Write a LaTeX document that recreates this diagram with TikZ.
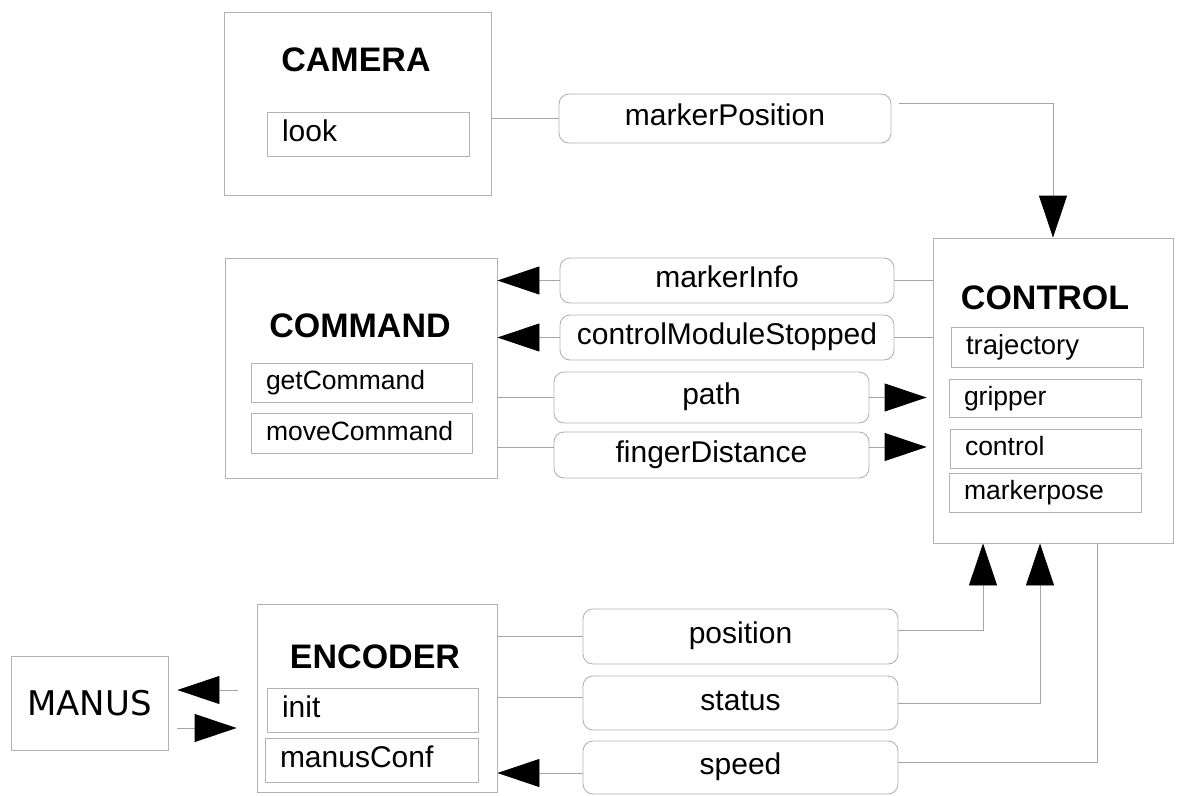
\documentclass[tikz,border=0pt]{standalone}
\usepackage{fontspec}
\setmainfont{Liberation Sans}
\newfontfamily\manusfont{DejaVu Sans}
\usetikzlibrary{arrows.meta,calc}

\tikzset{
  module/.style={draw=gray!60, line width=0.9pt, inner sep=0pt},
  title/.style={font=\fontsize{34pt}{40pt}\selectfont\bfseries},
  slot/.style={draw=gray!60, line width=0.9pt, inner xsep=15pt, inner ysep=0pt, align=left,
    text height=19pt, text depth=5pt, font=\fontsize{26.5pt}{32pt}\selectfont},
  bigslot/.style={slot, text height=21pt, text depth=6pt, font=\fontsize{30pt}{36pt}\selectfont},
  msg/.style={draw=gray!60, line width=0.9pt, rounded corners=10pt, inner sep=0pt,
    text height=21pt, text depth=7pt, font=\fontsize{30pt}{36pt}\selectfont},
  link/.style={gray!70, line width=0.9pt},
  flow/.style={link, -{Triangle[length=42pt,width=28pt,color=black]}},
}

\begin{document}
\begin{tikzpicture}[x=1pt, y=-1pt]
    \useasboundingbox (0,0) rectangle (1177,795);

    % Camera module
    \node[module, minimum width=267pt, minimum height=183pt] (camera) at (357.5,103.5) {};
    \node[title] (cameraT) at (356,60) {CAMERA};
    \node[bigslot, minimum height=44pt, text width=172pt] (look) at (368,134) {look};

    % Command module
    \node[module, minimum width=272pt, minimum height=220pt] (command) at (361,368) {};
    \node[title] (commandT) at (360,326) {COMMAND};
    \node[slot, minimum height=39pt, text width=191pt] (getcmd) at (361.5,382.5) {getCommand};
    \node[slot, minimum height=40pt, text width=191pt] (movecmd) at (361.5,433) {moveCommand};

    % Control module
    \node[module, minimum width=240pt, minimum height=305pt] (control) at (1053,390.5) {};
    \node[title] (controlT) at (1045,298) {CONTROL};
    \node[slot, minimum height=40pt, text width=162pt, font=\fontsize{27.5pt}{33pt}\selectfont] (traj) at (1047,347) {trajectory};
    \node[slot, minimum height=38pt, text width=162pt] (grip) at (1045,398) {gripper};
    \node[slot, minimum height=39pt, text width=161pt] (ctrl) at (1045.5,448.5) {control};
    \node[slot, minimum height=39pt, text width=162pt] (mpose) at (1045,492.5) {markerpose};

    % Encoder module and the hand
    \node[module, minimum width=240pt, minimum height=188pt] (encoder) at (377,698) {};
    \node[title] (encoderT) at (375,657) {ENCODER};
    \node[bigslot, minimum height=44pt, text width=181pt] (init) at (372.5,710) {init};
    \node[bigslot, minimum height=44pt, text width=183pt] (mconf) at (371.5,760) {manusConf};
    \node[module, minimum width=157pt, minimum height=94pt,
          font=\manusfont\fontsize{34pt}{40pt}\selectfont] (manus) at (89.5,703) {MANUS};

    % Messages
    \node[msg, minimum width=332pt, minimum height=49pt] (mpos) at (725,118.5) {markerPosition};
    \node[msg, minimum width=334pt, minimum height=45pt] (minfo) at (727,280.5) {markerInfo};
    \node[msg, minimum width=334pt, minimum height=45pt] (cms) at (727,337.5) {controlModuleStopped};
    \node[msg, minimum width=315pt, minimum height=51pt] (path) at (711.5,397.5) {path};
    \node[msg, minimum width=315pt, minimum height=46pt] (fdist) at (711.5,455) {fingerDistance};
    \node[msg, minimum width=315pt, minimum height=55pt] (position) at (740.5,636.5) {position};
    \node[msg, minimum width=315pt, minimum height=54pt] (status) at (740.5,703) {status};
    \node[msg, minimum width=315pt, minimum height=53pt] (speed) at (740.5,767.5) {speed};

    % Camera -> Control
    \draw[link] (mpos.west -| camera.east) -- (mpos.west);
    \draw[flow] ([xshift=8pt,yshift=15pt]mpos.east) -| (control.north);

    % Control -> Command
    \draw[link] (minfo.east -| control.west) -- (minfo.east);
    \draw[flow] (minfo.west) -- (minfo.west -| command.east);
    \draw[link] (cms.east -| control.west) -- (cms.east);
    \draw[flow] (cms.west) -- (cms.west -| command.east);

    % Command -> Control
    \draw[link] (path.west -| command.east) -- (path.west);
    \draw[flow, shorten >=6pt] (path.east) -- (path.east -| control.west);
    \coordinate (fdIn) at ([yshift=8pt]fdist.west);
    \coordinate (fdOut) at ([yshift=8pt]fdist.east);
    \draw[link] (command.east |- fdIn) -- (fdIn);
    \draw[flow, shorten >=6pt] (fdOut) -- (control.west |- fdOut);

    % Encoder <-> Control
    \draw[link] (position.west -| encoder.east) -- (position.west);
    \draw[flow] ([yshift=6pt]position.east) -| ([xshift=-70pt]control.south);
    \coordinate (stIn) at ([yshift=6pt]status.west);
    \draw[link] (encoder.east |- stIn) -- (stIn);
    \draw[flow] (status.east) -| ([xshift=-13pt]control.south);
    \draw[link] ([xshift=44pt]control.south) |- ([yshift=5.5pt]speed.east);
    \coordinate (spOut) at ([yshift=-5.5pt]speed.west);
    \draw[flow] (spOut) -- (encoder.east |- spOut);

    % Encoder <-> Manus
    \coordinate (toManus) at ([xshift=-19pt,yshift=8pt]encoder.west);
    \draw[flow, shorten >=9pt] (toManus) -- (manus.east |- toManus);
    \coordinate (fromManus) at ([xshift=9pt,yshift=-25pt]manus.east);
    \draw[flow, shorten >=20pt] (fromManus) -- (encoder.west |- fromManus);
\end{tikzpicture}
\end{document}
